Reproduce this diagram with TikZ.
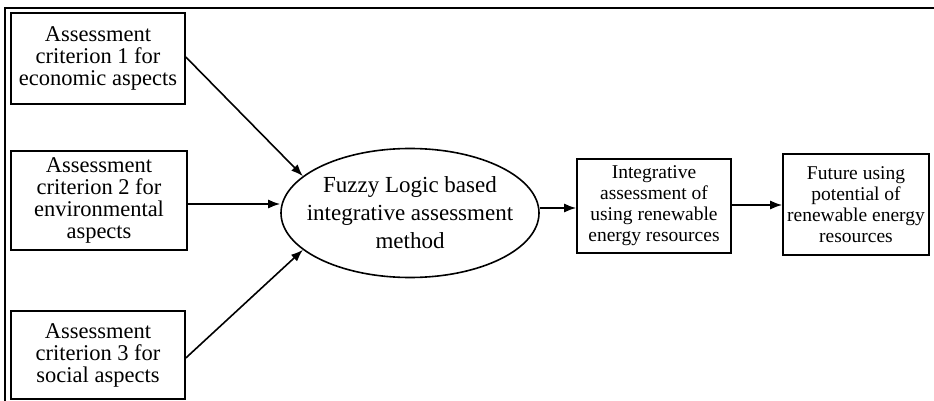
\documentclass[tikz,border=0pt]{standalone}
\usepackage{fontspec}
\setmainfont{Liberation Serif}
\usetikzlibrary{arrows.meta,shapes.geometric}
\begin{document}
\begin{tikzpicture}[x=1pt,y=-1pt,
  box/.style={draw,line width=1.6pt,inner sep=0pt,align=center},
  bigtxt/.style={font=\fontsize{22.5}{22}\selectfont},
  smalltxt/.style={font=\fontsize{19.5}{21}\selectfont},
  arr/.style={line width=1.6pt,-{Latex[length=12pt,width=9pt]}}]
\useasboundingbox (0,0) rectangle (934,401);
\draw[line width=1.4pt] (5,401) -- (5,8) -- (934,8);
\node[box,bigtxt,minimum width=174pt,minimum height=91pt] (c1) at (98,58.5)
  {Assessment\\criterion 1 for\\economic aspects};
\node[box,bigtxt,minimum width=176pt,minimum height=99pt] (c2) at (99,200.5)
  {Assessment\\criterion 2 for\\environmental\\aspects};
\node[box,bigtxt,minimum width=174pt,minimum height=88pt] (c3) at (98,355)
  {Assessment\\criterion 3 for\\social aspects};
\node[draw,line width=1.6pt,ellipse,minimum width=258pt,minimum height=129pt,inner sep=0pt] (m) at (410,213) {};
\node[align=center,inner sep=0pt,font=\fontsize{23}{28}\selectfont] (mt) at (m.center)
  {Fuzzy Logic based\\integrative assessment\\method};
\node[box,smalltxt,minimum width=154pt,minimum height=94pt] (r) at (654,206)
  {Integrative\\assessment of\\using renewable\\energy resources};
\node[box,smalltxt,minimum width=146pt,minimum height=101pt] (f) at (856,204.5)
  {Future using\\potential of\\renewable energy\\resources};
\draw[arr] (c1.east |- 0,57) -- (m.161);
\draw[arr] (c2.east |- 0,204) -- (m.west |- 0,204);
\draw[arr] (c3.east |- 0,358) -- (m.199);
\draw[arr] (m.east |- 0,208) -- (r.west |- 0,208);
\draw[arr] (r.east |- 0,205) -- (f.west |- 0,205);
\end{tikzpicture}
\end{document}
